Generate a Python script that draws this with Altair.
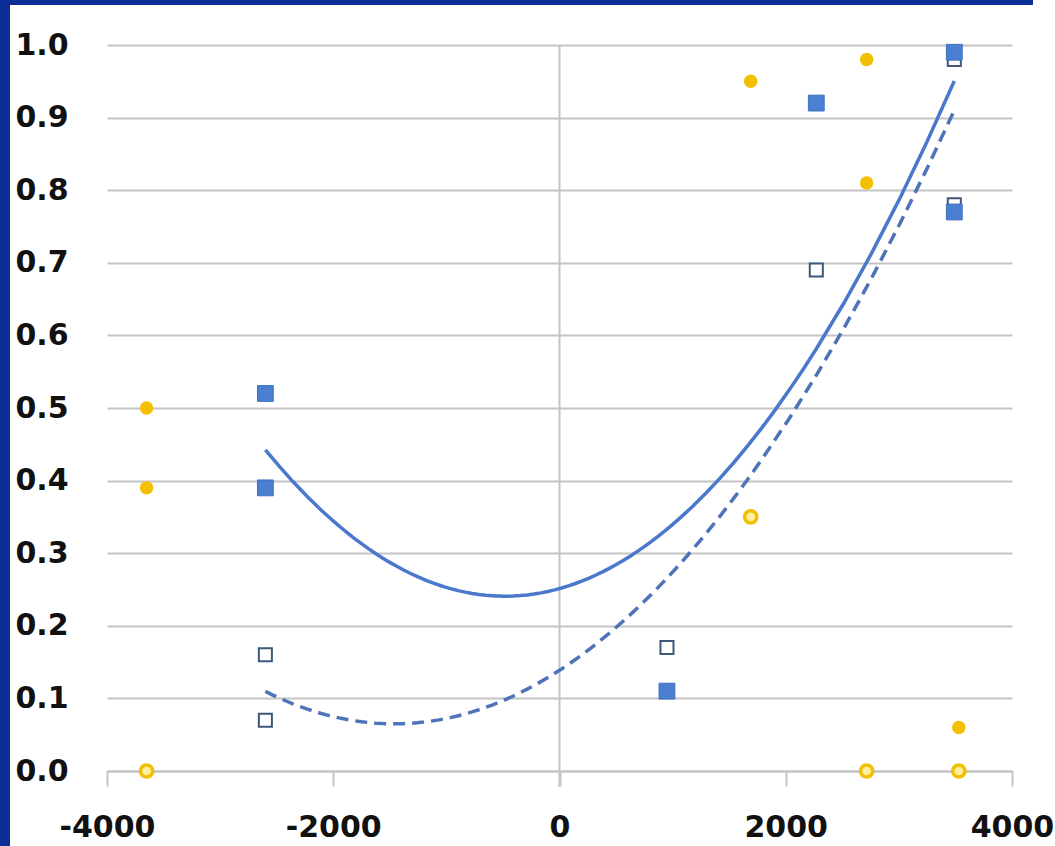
import altair as alt
import pandas as pd

# --- data ---
gold_filled_x = [-3650, -3650, 1690, 2715, 2715, 3530]
gold_filled_y = [0.50, 0.39, 0.95, 0.98, 0.81, 0.06]

gold_open_x = [-3650, 1690, 2715, 3530]
gold_open_y = [0.0, 0.35, 0.0, 0.0]

blue_filled_x = [-2600, -2600, 950, 2270, 3490, 3490]
blue_filled_y = [0.52, 0.39, 0.11, 0.92, 0.99, 0.77]

blue_open_x = [-2600, -2600, 950, 2270, 3490, 3490]
blue_open_y = [0.16, 0.07, 0.17, 0.69, 0.98, 0.78]

x_ticks = [-4000, -2000, 0, 2000, 4000]
y_ticks = [0.0, 0.1, 0.2, 0.3, 0.4, 0.5, 0.6, 0.7, 0.8, 0.9, 1.0]

W, H = 905, 726
PAD = {"left": 107, "top": 45, "right": 43, "bottom": 75}

gf = pd.DataFrame({"x": gold_filled_x, "y": gold_filled_y})
go = pd.DataFrame({"x": gold_open_x, "y": gold_open_y})
bf = pd.DataFrame({"x": blue_filled_x, "y": blue_filled_y})
bo = pd.DataFrame({"x": blue_open_x, "y": blue_open_y})

FONT = "DejaVu Sans"
GRID = "#c4c4c4"
BLUE = "#4a7fd2"
LINE = "#4a78cc"
GOLD = "#f2c000"
FRAME = "#0b2f96"

xs = alt.Scale(domain=[-4000, 4000], nice=False, zero=False)
ys = alt.Scale(domain=[0, 1.0], nice=False)

x_axis = alt.Axis(values=x_ticks, grid=False, domain=True, domainColor=GRID, domainWidth=2,
                  ticks=True, tickColor=GRID, tickSize=15, tickWidth=2,
                  labelExpr="datum.value + ''",
                  labelFont=FONT, labelFontWeight="bold", labelFontSize=30, labelColor="#111111",
                  labelPadding=26, title=None, labelFlush=False, labelOverlap=False)
y_axis = alt.Axis(values=y_ticks, format=".1f", grid=True, gridColor=GRID, gridWidth=2,
                  domain=False, ticks=False,
                  labelFont=FONT, labelFontWeight="bold", labelFontSize=30, labelColor="#111111",
                  labelAlign="left", labelBaseline="middle", labelPadding=92, title=None,
                  labelFlush=False, labelOverlap=False)

base_axes = alt.Chart(gf).mark_point(opacity=0).encode(
    x=alt.X("x:Q", scale=xs, axis=x_axis),
    y=alt.Y("y:Q", scale=ys, axis=y_axis),
)

# vertical axis at x = 0
vline = alt.Chart(pd.DataFrame({"x": [0]})).mark_rule(color=GRID, strokeWidth=2).encode(
    x=alt.X("x:Q", scale=xs), y=alt.value(0), y2=alt.value(H + 16)
)

trend_solid = alt.Chart(bf).transform_regression(
    "x", "y", method="poly", order=2
).mark_line(color=LINE, strokeWidth=3.5).encode(
    x=alt.X("x:Q", scale=xs), y=alt.Y("y:Q", scale=ys)
)
trend_dash = alt.Chart(bo).transform_regression(
    "x", "y", method="poly", order=2
).mark_line(color="#4f73b8", strokeWidth=3.5, strokeDash=[12, 7]).encode(
    x=alt.X("x:Q", scale=xs), y=alt.Y("y:Q", scale=ys)
)

pts_gf = alt.Chart(gf).mark_point(shape="circle", filled=True, color=GOLD, size=180, opacity=1).encode(
    x=alt.X("x:Q", scale=xs), y=alt.Y("y:Q", scale=ys)
)
pts_go = alt.Chart(go).mark_point(shape="circle", filled=True, fill="#fff0a0", stroke=GOLD,
                                  strokeWidth=3.5, size=150, opacity=1).encode(
    x=alt.X("x:Q", scale=xs), y=alt.Y("y:Q", scale=ys)
)
pts_bf = alt.Chart(bf).mark_point(shape="square", filled=True, fill=BLUE, stroke="#3f70c0",
                                  strokeWidth=1, size=250, opacity=1).encode(
    x=alt.X("x:Q", scale=xs), y=alt.Y("y:Q", scale=ys)
)
pts_bo = alt.Chart(bo).mark_point(shape="square", filled=True, fill="white", stroke="#3d5878",
                                  strokeWidth=2, size=170, opacity=1).encode(
    x=alt.X("x:Q", scale=xs), y=alt.Y("y:Q", scale=ys)
)

# dark blue frame bands (top and left)
frame_top = alt.Chart(gf).mark_rect(color=FRAME).encode(
    x=alt.value(-PAD["left"]), x2=alt.value(1033 - PAD["left"]),
    y=alt.value(-PAD["top"]), y2=alt.value(5 - PAD["top"])
)
frame_left = alt.Chart(gf).mark_rect(color=FRAME).encode(
    x=alt.value(-PAD["left"]), x2=alt.value(10 - PAD["left"]),
    y=alt.value(-PAD["top"]), y2=alt.value(846 - PAD["top"])
)

chart = alt.layer(
    base_axes, vline, trend_solid, trend_dash, pts_bo, pts_bf, pts_go, pts_gf, frame_top, frame_left
).properties(
    width=W, height=H,
    autosize=alt.AutoSizeParams(type="none"),
    padding=PAD,
    background="white",
).configure_view(stroke=None)

chart.save("out.html", embed_options={"renderer": "svg", "actions": False})
